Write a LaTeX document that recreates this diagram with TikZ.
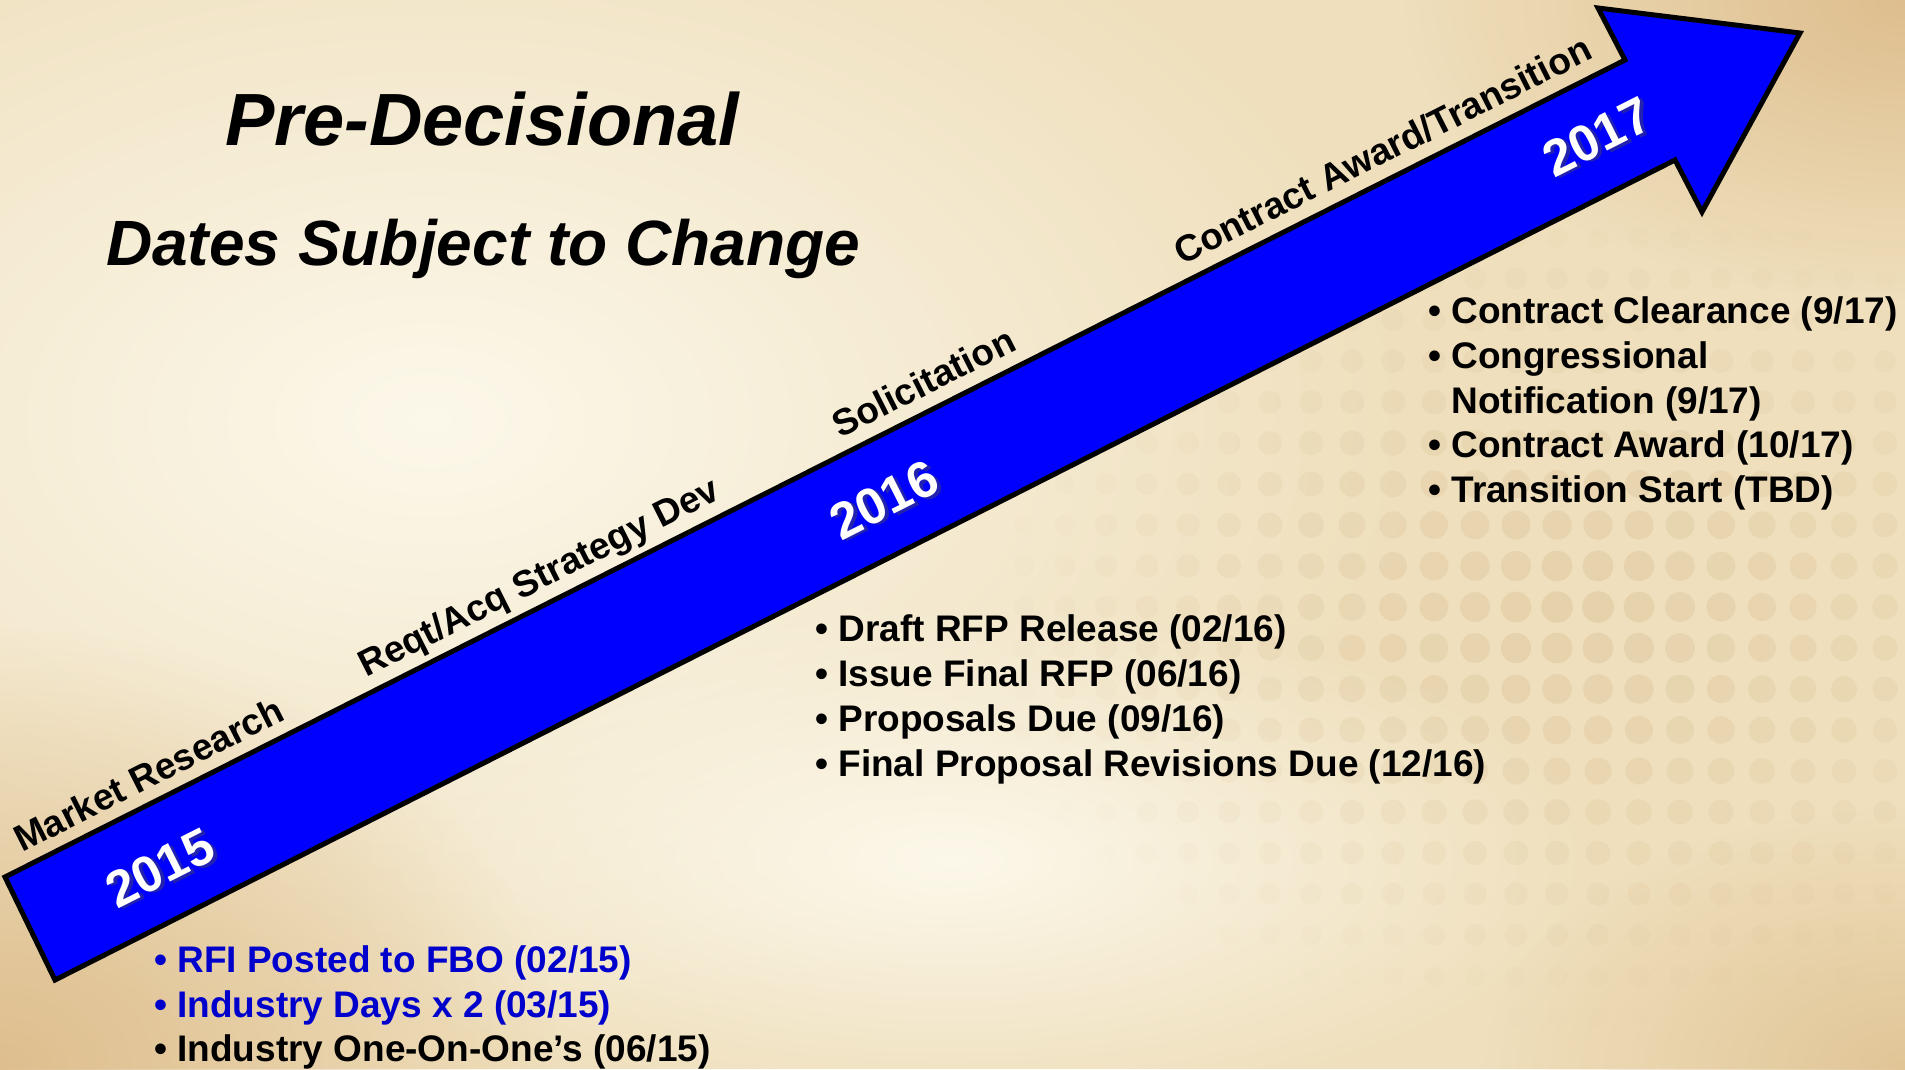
\documentclass[tikz,border=0pt]{standalone}
\usepackage{fontspec}
\setmainfont{Liberation Sans}
\usetikzlibrary{fadings}
\tikzfading[name=softblob, inner color=transparent!0, outer color=transparent!100]
\definecolor{bgbase}{RGB}{239,223,188}
\definecolor{bglight}{RGB}{252,248,234}
\definecolor{bgdark}{RGB}{222,190,142}
\definecolor{dotc}{RGB}{200,168,118}
\definecolor{arrowblue}{RGB}{0,0,255}
\definecolor{itemblue}{RGB}{0,0,204}
\tikzset{
  itemtext/.style={anchor=base west, inner sep=0pt, font=\fontsize{37}{44}\selectfont\bfseries},
  phaselbl/.style={anchor=base west, inner sep=0pt, rotate=26.8, font=\fontsize{37}{44}\selectfont\bfseries},
  yearlbl/.style={inner sep=0pt, rotate=26.8, font=\fontsize{51}{60}\selectfont\bfseries, text=white},
  yearshadow/.style={inner sep=0pt, rotate=26.8, font=\fontsize{51}{60}\selectfont\bfseries, text=black!70, opacity=0.45},
  bigarrow/.style={draw=black, line width=5pt, line join=miter, fill=arrowblue},
  titletext/.style={anchor=base west, inner sep=0pt},
}
\begin{document}
\begin{tikzpicture}[x=1pt,y=-1pt]
\useasboundingbox (0,0) rectangle (1905,1069);
% background
\fill[bgbase] (0,0) rectangle (1905,1069);
\begin{scope}
\clip (0,0) rectangle (1905,1069);
\fill[bglight, path fading=softblob] (430,420) ellipse [x radius=1000, y radius=620];
\fill[bglight, path fading=softblob] (950,860) ellipse [x radius=650, y radius=260];
\fill[bgdark, path fading=softblob] (0,1069) ellipse [x radius=560, y radius=440];
\fill[bgdark, path fading=softblob] (1905,0) ellipse [x radius=500, y radius=300];
\fill[bgdark!80!bgbase, path fading=softblob] (1905,1069) ellipse [x radius=420, y radius=260];
\foreach \i in {0,...,21} {
  \foreach \j in {0,...,24} {
    \pgfmathsetmacro\px{1885-41*\i}
    \pgfmathsetmacro\py{33+41*\j}
    \pgfmathsetmacro\dd{sqrt(((\px-1580)/620)^2+((\py-610)/430)^2)}
    \pgfmathsetmacro\op{max(0,0.24*(1-\dd))}
    \pgfmathsetmacro\rr{16*(1-0.4*min(\dd,1))}
    \ifdim\op pt>0.01pt
      \fill[dotc, opacity=\op] (\px,\py) circle [radius=\rr];
    \fi
  }
}
\end{scope}
% titles
\node[titletext, font=\fontsize{74}{88}\selectfont\bfseries\itshape] (title1) at (225,145) {Pre-Decisional};
\node[titletext, font=\fontsize{64}{76}\selectfont\bfseries\itshape] (title2) at (106,265) {Dates Subject to Change};
% arrow
\coordinate (tailtop) at (5,877);
\coordinate (notchtop) at (1625,60);
\coordinate (barbtop) at (1598,8);
\coordinate (tip) at (1800,33);
\coordinate (barbbot) at (1702,212);
\coordinate (notchbot) at (1675,160);
\coordinate (tailbot) at (55,980);
\draw[bigarrow] (tailtop) -- (notchtop) -- (barbtop) -- (tip) -- (barbbot) -- (notchbot) -- (tailbot) -- cycle;
% phase labels
\node[phaselbl] (market) at (22,853) {Market Research};
\node[phaselbl] (reqt) at (366,678) {Reqt/Acq Strategy Dev};
\node[phaselbl] (solic) at (840,439) {Solicitation};
\node[phaselbl] (award) at (1182,266) {Contract Award/Transition};
% years
\node[yearshadow, xshift=3pt, yshift=-3pt] at (160,868) {2015};
\node[yearlbl] (y2015) at (160,868) {2015};
\node[yearshadow, xshift=3pt, yshift=-3pt] at (884,500) {2016};
\node[yearlbl] (y2016) at (884,500) {2016};
\node[yearshadow, xshift=3pt, yshift=-3pt] at (1597,137) {2017};
\node[yearlbl] (y2017) at (1597,137) {2017};
% 2015 items
\node[itemtext, text=itemblue] (a1) at (154,972) {•~RFI Posted to FBO (02/15)};
\node[itemtext, text=itemblue] (a2) at (154,1017) {•~Industry Days x 2 (03/15)};
\node[itemtext] (a3) at (154,1061) {•~Industry One-On-One’s (06/15)};
% 2016 items
\node[itemtext] (b1) at (815,641) {•~Draft RFP Release (02/16)};
\node[itemtext] (b2) at (815,686) {•~Issue Final RFP (06/16)};
\node[itemtext] (b3) at (815,731) {•~Proposals Due (09/16)};
\node[itemtext] (b4) at (815,776) {•~Final Proposal Revisions Due (12/16)};
% 2017 items
\node[itemtext] (c1) at (1428,323) {•~Contract Clearance (9/17)};
\node[itemtext] (c2) at (1428,368) {•~Congressional};
\node[itemtext] (c3) at (1428,413) {\phantom{•~}Notification (9/17)};
\node[itemtext] (c4) at (1428,457.5) {•~Contract Award (10/17)};
\node[itemtext] (c5) at (1428,502) {•~Transition Start (TBD)};
\end{tikzpicture}
\end{document}
